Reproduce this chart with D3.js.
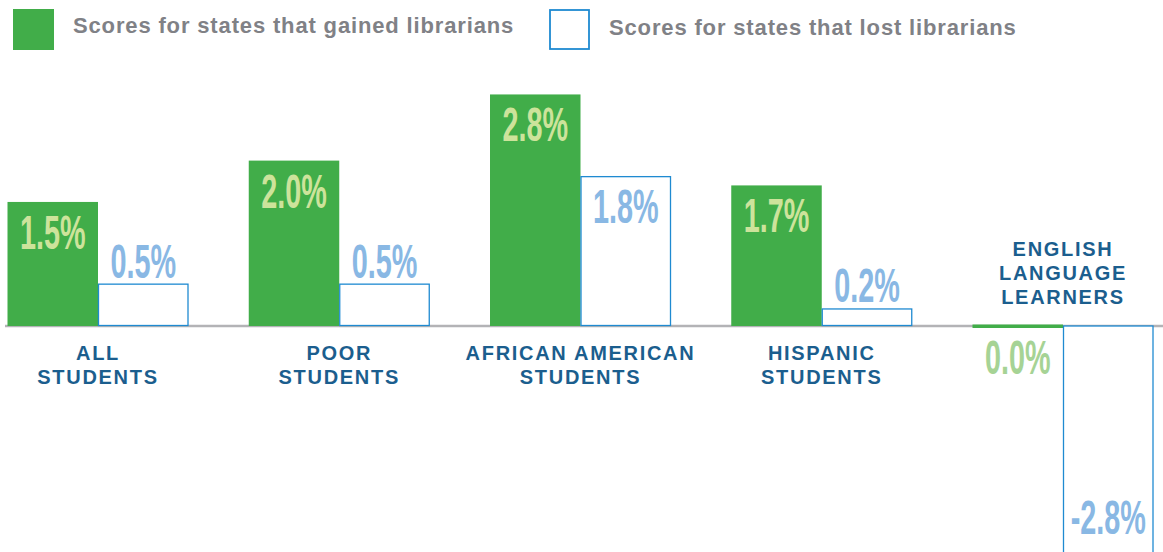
<!DOCTYPE html>
<html>
<head>
<meta charset="utf-8">
<script src="https://cdn.jsdelivr.net/npm/d3@7/dist/d3.min.js"></script>
<style>
  html, body { margin: 0; padding: 0; background: #fff; }
  svg { display: block; }
</style>
</head>
<body>
<svg id="chart" width="1163" height="552"></svg>
<script>
// ---- data ----
const categories = ["ALL STUDENTS", "POOR STUDENTS", "AFRICAN AMERICAN STUDENTS", "HISPANIC STUDENTS", "ENGLISH LANGUAGE LEARNERS"];
const categoryLines = [["ALL", "STUDENTS"], ["POOR", "STUDENTS"], ["AFRICAN AMERICAN", "STUDENTS"], ["HISPANIC", "STUDENTS"], ["ENGLISH", "LANGUAGE", "LEARNERS"]];
const seriesNames = ["Scores for states that gained librarians", "Scores for states that lost librarians"];
const gainedValues = [1.5, 2.0, 2.8, 1.7, 0.0];
const lostValues = [0.5, 0.5, 1.8, 0.2, -2.8];

// ---- styles ----
const GREEN = "#41ad49", GREEN_LABEL = "#cde39b", GREEN_LABEL_LIGHT = "#a6d395";
const BLUE = "#1f8ad1", BLUE_LABEL = "#89b8e4", NAVY = "#1b5e8e", GRAY_TXT = "#808186";

const svg = d3.select("#chart");
const W = 1163, H = 552;
const baseY = 326;
const pxPerUnit = 82.7;

const x0 = d3.scaleBand().domain(categories).range([98 - 120.625, 98 - 120.625 + 5 * 241.25]).paddingInner(0).paddingOuter(0);
const x1 = d3.scaleBand().domain(seriesNames).range([0, 181]);
const offset = (x0.bandwidth() - 181) / 2;
const y = d3.scaleLinear().domain([-3, 3]).range([baseY + 3 * pxPerUnit, baseY - 3 * pxPerUnit]);

const rows = categories.map((c, i) => ({ cat: c, lines: categoryLines[i], vals: [gainedValues[i], lostValues[i]] }));

// baseline
svg.append("line").attr("x1", 5).attr("x2", W).attr("y1", y(0)).attr("y2", y(0))
  .attr("stroke", "#b3b3b6").attr("stroke-width", 2.5);

const g = svg.selectAll("g.grp").data(rows).join("g").attr("class", "grp")
  .attr("transform", d => `translate(${x0(d.cat) + offset},0)`);

// bars
g.each(function (d) {
  const gg = d3.select(this);
  d.vals.forEach((v, si) => {
    const bx = x1(seriesNames[si]);
    const bw = x1.bandwidth();
    const top = Math.min(y(v), y(0));
    const h = Math.abs(y(v) - y(0));
    if (si === 0) {
      const hh = Math.max(h, 3.5);
      gg.append("rect").attr("x", bx).attr("y", v === 0 ? y(0) - 1.5 : top).attr("width", bw).attr("height", hh)
        .attr("fill", GREEN);
    } else {
      gg.append("rect").attr("x", bx + 0.5).attr("y", top - (v >= 0 ? 0.5 : 0)).attr("width", bw - 1).attr("height", h)
        .attr("fill", "#fff").attr("stroke", BLUE).attr("stroke-width", 1.3);
    }
  });
});

// value labels
const SX = 0.6;
function valueLabel(gg, cx, ty, text, color) {
  gg.append("text")
    .attr("transform", `translate(${cx},${ty}) scale(${SX},1)`)
    .attr("text-anchor", "middle")
    .attr("font-family", "'Liberation Sans', Arial, sans-serif")
    .attr("font-weight", "bold")
    .attr("font-size", 48)
    .attr("fill", color)
    .text(text);
}
g.each(function (d) {
  const gg = d3.select(this);
  d.vals.forEach((v, si) => {
    const cx = x1(seriesNames[si]) + x1.bandwidth() / 2;
    const txt = v.toFixed(1) + "%";
    const h = Math.abs(y(v) - y(0));
    if (si === 0) {
      if (v > 0) valueLabel(gg, cx, y(v) + 47, txt, GREEN_LABEL);
      else valueLabel(gg, cx, y(0) + 48, txt, GREEN_LABEL_LIGHT);
    } else {
      if (v < 0) valueLabel(gg, cx, y(v) - 24, txt, BLUE_LABEL);
      else if (h > 60) valueLabel(gg, cx, y(v) + 46, txt, BLUE_LABEL);
      else valueLabel(gg, cx, y(v) - 7, txt, BLUE_LABEL);
    }
  });
});

// category labels
g.each(function (d) {
  const gg = d3.select(this);
  const cx = 90.5;
  const hasNeg = d.vals.some(v => v < 0);
  const n = d.lines.length;
  d.lines.forEach((ln, li) => {
    const yy = hasNeg ? (y(0) - 22 - (n - 1 - li) * 24) : (y(0) + 34 + li * 24);
    gg.append("text")
      .attr("x", cx).attr("y", yy)
      .attr("text-anchor", "middle")
      .attr("font-family", "'Liberation Sans', Arial, sans-serif")
      .attr("font-weight", "bold")
      .attr("font-size", 20)
      .attr("letter-spacing", 1.7)
      .attr("fill", NAVY)
      .text(ln);
  });
});

// legend
const legend = [
  { name: seriesNames[0], bx: 13, tx: 73, ty: 33 },
  { name: seriesNames[1], bx: 549, tx: 609, ty: 35 }
];
legend.forEach((l, i) => {
  if (i === 0) {
    svg.append("rect").attr("x", l.bx).attr("y", 9).attr("width", 41).attr("height", 41).attr("fill", GREEN);
  } else {
    svg.append("rect").attr("x", l.bx + 1).attr("y", 10).attr("width", 39).attr("height", 39)
      .attr("fill", "#fff").attr("stroke", BLUE).attr("stroke-width", 1.8);
  }
  svg.append("text").attr("x", l.tx).attr("y", l.ty)
    .attr("font-family", "'Liberation Sans', Arial, sans-serif")
    .attr("font-weight", "bold")
    .attr("font-size", 22)
    .attr("letter-spacing", 0.85)
    .attr("fill", GRAY_TXT)
    .text(l.name);
});
</script>
</body>
</html>
